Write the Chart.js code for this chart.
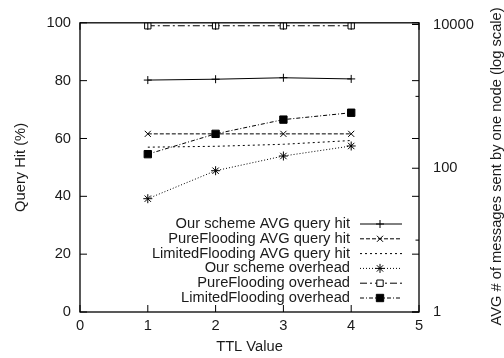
<!DOCTYPE html>
<html><head><meta charset="utf-8">
<script src="https://cdn.jsdelivr.net/npm/chart.js@4"></script>
<style>html,body{margin:0;padding:0;background:#fff}#wrap{width:504px;height:358px}</style>
</head><body><div id="wrap"><canvas id="c" width="504" height="358"></canvas></div>
<script>
// ---- data ----
const ttl = [1, 2, 3, 4];
const ourHit = [80.2, 80.5, 81.0, 80.6];
const pureHit = [61.6, 61.6, 61.6, 61.6];
const limitedHit = [57.0, 57.3, 58.0, 59.3];
const ourOverhead = [37.7, 92.4, 148, 204];
const pureOverhead = [9600, 9600, 9600, 9600];
const limitedOverhead = [157, 301, 475, 592];
const xTicks = [0, 1, 2, 3, 4, 5];
const yTicks = [0, 20, 40, 60, 80, 100];
const y2Ticks = [1, 10, 100, 1000, 10000];
const y2Labeled = [1, 100, 10000];
const seriesNames = [
  'Our scheme AVG query hit',
  'PureFlooding AVG query hit',
  'LimitedFlooding AVG query hit',
  'Our scheme overhead',
  'PureFlooding overhead',
  'LimitedFlooding overhead'
];

const FONT = {family: '"Liberation Sans", Arial, Helvetica, sans-serif', size: 14.7};
const TXT = '#1a1a1a';
const pts = arr => ttl.map((x, i) => ({x: x, y: arr[i]}));

const datasets = [
  {label: seriesNames[0], data: pts(ourHit), yAxisID: 'y', borderDash: [], pointStyle: 'cross', pointRadius: 4, pointBackgroundColor: '#000'},
  {label: seriesNames[1], data: pts(pureHit), yAxisID: 'y', borderDash: [4, 2], pointStyle: 'crossRot', pointRadius: 4.3, pointBackgroundColor: '#000'},
  {label: seriesNames[2], data: pts(limitedHit), yAxisID: 'y', borderDash: [2, 3], pointStyle: 'circle', pointRadius: 0, pointBackgroundColor: '#000'},
  {label: seriesNames[3], data: pts(ourOverhead), yAxisID: 'y2', borderDash: [1, 2], pointStyle: 'star', pointRadius: 4.5, pointBackgroundColor: '#000'},
  {label: seriesNames[4], data: pts(pureOverhead), yAxisID: 'y2', borderDash: [7, 3, 2, 3], pointStyle: 'rect', pointRadius: 4.5, pointBackgroundColor: '#fff'},
  {label: seriesNames[5], data: pts(limitedOverhead), yAxisID: 'y2', borderDash: [4, 2, 1, 2], pointStyle: 'rect', pointRadius: 5.2, pointBackgroundColor: '#000'}
].map(d => Object.assign({
  borderColor: '#000', borderWidth: 1, tension: 0, fill: false,
  pointBorderColor: '#000', pointBorderWidth: 1, pointHoverRadius: 0
}, d));

function drawMarker(ctx, style, r, x, y, fillCol) {
  ctx.save();
  ctx.setLineDash([]);
  ctx.lineWidth = 1;
  ctx.strokeStyle = '#000';
  ctx.fillStyle = fillCol;
  if (Chart.helpers && Chart.helpers.drawPoint) {
    Chart.helpers.drawPoint(ctx, {pointStyle: style, radius: r, rotation: 0, borderWidth: 1}, x, y);
  }
  ctx.restore();
}

const framePlugin = {
  id: 'frame',
  afterDatasetsDraw(chart) {
    const {ctx, chartArea: a, scales} = chart;
    ctx.save();
    ctx.strokeStyle = '#000';
    ctx.lineWidth = 1.3;
    ctx.setLineDash([]);
    ctx.strokeRect(a.left, a.top, a.right - a.left, a.bottom - a.top);
    ctx.lineWidth = 1;
    ctx.beginPath();
    xTicks.forEach(v => {
      const px = scales.x.getPixelForValue(v);
      ctx.moveTo(px, a.bottom); ctx.lineTo(px, a.bottom - 7);
      ctx.moveTo(px, a.top); ctx.lineTo(px, a.top + 7);
    });
    yTicks.forEach(v => {
      const py = scales.y.getPixelForValue(v);
      ctx.moveTo(a.left, py); ctx.lineTo(a.left + 7, py);
      ctx.moveTo(a.right, py); ctx.lineTo(a.right - 7, py);
    });
    y2Ticks.forEach(v => {
      const py = scales.y2.getPixelForValue(v);
      const len = y2Labeled.includes(v) ? 7 : 3.5;
      ctx.moveTo(a.right, py); ctx.lineTo(a.right - len, py);
    });
    ctx.stroke();

    // legend (inside plot, bottom right)
    const n = chart.data.datasets.length;
    ctx.font = FONT.size + 'px ' + FONT.family;
    ctx.fillStyle = TXT;
    ctx.textAlign = 'right';
    ctx.textBaseline = 'middle';
    chart.data.datasets.forEach((ds, i) => {
      const yy = a.bottom - 14 - (n - 1 - i) * 14.8;
      ctx.fillStyle = TXT;
      ctx.fillText(ds.label, a.left + 270, yy);
      ctx.save();
      ctx.strokeStyle = '#000';
      ctx.lineWidth = 1;
      ctx.setLineDash(ds.borderDash);
      ctx.beginPath();
      ctx.moveTo(a.left + 280, yy);
      ctx.lineTo(a.left + 322, yy);
      ctx.stroke();
      ctx.restore();
      if (ds.pointRadius > 0) drawMarker(ctx, ds.pointStyle, ds.pointRadius, a.left + 300, yy, ds.pointBackgroundColor);
    });

    // right axis title, rotated like the left one
    ctx.save();
    ctx.translate(chart.width - 7, (a.top + a.bottom) / 2 - 1);
    ctx.rotate(-Math.PI / 2);
    ctx.textAlign = 'center';
    ctx.textBaseline = 'middle';
    ctx.fillStyle = TXT;
    ctx.fillText('AVG # of messages sent by one node (log scale)', 0, 0);
    ctx.restore();
    ctx.restore();
  }
};

new Chart(document.getElementById('c'), {
  type: 'line',
  data: {datasets: datasets},
  options: {
    responsive: false, animation: false, devicePixelRatio: 1,
    layout: {padding: {top: 19, left: 0, right: 0, bottom: 0}},
    plugins: {legend: {display: false}, tooltip: {enabled: false}},
    events: [],
    scales: {
      x: {
        type: 'linear', min: 0, max: 5,
        afterBuildTicks: s => { s.ticks = xTicks.map(v => ({value: v})); },
        grid: {display: false, drawTicks: false}, border: {display: false},
        ticks: {padding: 5, color: TXT, font: FONT, maxRotation: 0, autoSkip: false},
        title: {display: true, text: 'TTL Value', color: TXT, font: FONT, padding: {top: 0, bottom: 2}},
        afterFit: s => { s.height = 46; }
      },
      y: {
        type: 'linear', position: 'left', min: 0, max: 100,
        afterBuildTicks: s => { s.ticks = yTicks.map(v => ({value: v})); },
        grid: {display: false, drawTicks: false}, border: {display: false},
        ticks: {padding: 9, color: TXT, font: FONT, autoSkip: false},
        title: {display: true, text: 'Query Hit (%)', color: TXT, font: FONT, padding: {top: 12.5, bottom: 0}},
        afterFit: s => { s.width = 80; }
      },
      y2: {
        type: 'logarithmic', position: 'right', min: 1, max: 10550, bounds: 'data',
        afterBuildTicks: s => { s.ticks = y2Ticks.map(v => ({value: v})); },
        grid: {display: false, drawTicks: false}, border: {display: false},
        ticks: {padding: 14, color: TXT, font: FONT, autoSkip: false,
          callback: v => y2Labeled.includes(v) ? String(v) : ''},
        afterFit: s => { s.width = 85; }
      }
    }
  },
  plugins: [framePlugin]
});
</script></body></html>
